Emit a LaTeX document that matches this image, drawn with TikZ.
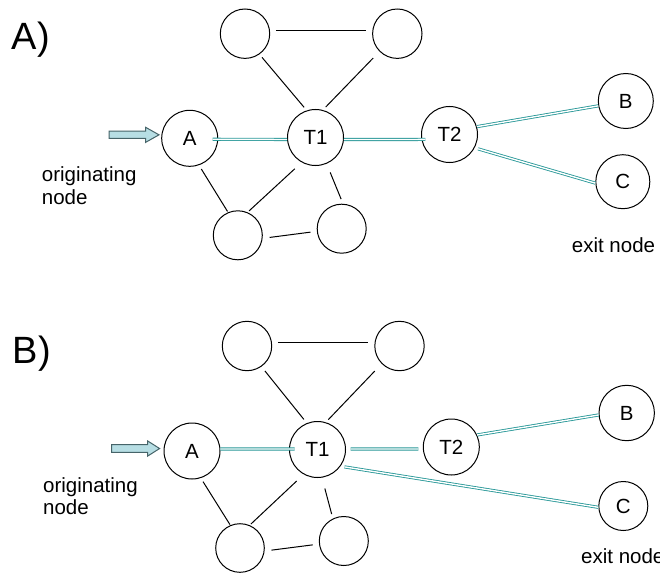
\documentclass[tikz,border=0pt]{standalone}
\usepackage{fontspec}
\setmainfont{Liberation Sans}
\usetikzlibrary{calc}

\definecolor{linkteal}{RGB}{40,152,152}
\definecolor{arrowfill}{RGB}{183,222,228}
\definecolor{arrowedge}{RGB}{70,100,105}

\tikzset{
  hub/.style={circle, draw, line width=1pt, inner sep=0pt,
              font=\fontsize{20.5}{24}\selectfont},
  link/.style={line width=1pt},
  route/.style={draw=linkteal, double=white, line width=0.85pt,
                double distance=1.4pt},
  caption/.style={font=\fontsize{20.5}{22.4}\selectfont, align=left,
                  anchor=base west, inner sep=0pt},
  panel/.style={font=\fontsize{38}{40}\selectfont, anchor=base west,
                inner sep=0pt},
  inlet/.style={fill=arrowfill, draw=arrowedge, line width=1pt,
                line join=miter}
}

\begin{document}
\begin{tikzpicture}[x=1pt, y=-1pt]
  \fill[white] (0,0) rectangle (660,572);
  \useasboundingbox (0,0) rectangle (660,572);

  % ---------------- panel A ----------------
  \node[panel] (lblA) at (11.7,50) {A)};

  \node[hub, minimum size=49.4pt] (aTL) at (245,33.7) {};
  \node[hub, minimum size=49.4pt] (aTR) at (397.3,33.7) {};
  \node[hub, minimum size=56pt]   (aA)  at (189.7,138.3) {A};
  \node[hub, minimum size=56pt]   (aT1) at (315.5,137.5) {T1};
  \node[hub, minimum size=56pt]   (aT2) at (449.5,134.5) {T2};
  \node[hub, minimum size=55pt]   (aB)  at (625.8,101) {B};
  \node[hub, minimum size=54pt]   (aC)  at (622.8,181.7) {C};
  \node[hub, minimum size=49pt]   (aBL) at (237.8,235.3) {};
  \node[hub, minimum size=49pt]   (aBR) at (341.7,228.7) {};

  \draw[link, shorten <=6pt, shorten >=6pt]     (aTL.8)      -- (aTR.172);
  \draw[link, shorten <=4pt, shorten >=4pt]     (aTL.-55)    -- (aT1.108);
  \draw[link, shorten <=9pt, shorten >=4pt]     (aTR.-135)   -- (aT1.75);
  \draw[link, shorten <=4.4pt, shorten >=1pt]   (aA.-71.5)   -- (aBL.113);
  \draw[link, shorten <=9.4pt, shorten >=2pt]   (aT1.-119.6) -- (aBL.67);
  \draw[link, shorten <=9.4pt, shorten >=5pt]   (aT1.-67)    -- (aBR.87.5);
  \draw[link, shorten <=7pt, shorten >=6.4pt]   (aBL.-7)     -- (aBR.186);

  \draw[route, shorten <=-5.5pt] (aA.-2)   -- (aT1.184);
  \draw[route, shorten >=-4pt]   (aT1.-4)  -- (aT2.190);
  \draw[route]                   (aT2.16)  -- (aB.190);
  \draw[route, shorten <=3.5pt]  (aT2.-28) -- (aC.183);

  \draw[inlet, shift={($(aA.173)+(-2.4,0)$)}]
    (-50,-3.6) -- (-13.5,-3.6) -- (-13.5,-7.6) -- (0,0)
    -- (-13.5,7.6) -- (-13.5,3.6) -- (-50,3.6) -- cycle;

  % the base anchor of a two-line caption sits on its last line
  \node[caption] (origA) at (41.7,204.1) {originating\\node};
  \node[caption] (exitA) at (571.7,252) {exit node};

  % ---------------- panel B ----------------
  \node[panel] (lblB) at (12.7,363) {B)};

  \node[hub, minimum size=49.4pt] (bTL) at (247,346) {};
  \node[hub, minimum size=49.4pt] (bTR) at (399.5,346) {};
  \node[hub, minimum size=56pt]   (bA)  at (192,451) {A};
  \node[hub, minimum size=56pt]   (bT1) at (317.5,449.5) {T1};
  \node[hub, minimum size=56pt]   (bT2) at (451.3,447) {T2};
  \node[hub, minimum size=55.4pt] (bB)  at (626.7,413) {B};
  \node[hub, minimum size=49pt]   (bC)  at (623.3,506) {C};
  \node[hub, minimum size=48.6pt] (bBL) at (240,548) {};
  \node[hub, minimum size=49pt]   (bBR) at (343.8,541) {};

  \draw[link, shorten <=6pt, shorten >=6.5pt]    (bTL.8)      -- (bTR.172);
  \draw[link, shorten <=5.5pt, shorten >=4.7pt]  (bTL.-55)    -- (bT1.112.5);
  \draw[link, shorten <=10pt, shorten >=3.6pt]   (bTR.-135)   -- (bT1.73);
  \draw[link, shorten <=4.2pt, shorten >=0.7pt]  (bA.-72.5)   -- (bBL.113.5);
  \draw[link, shorten <=9.7pt, shorten >=1.7pt]  (bT1.-119.4) -- (bBL.67.4);
  \draw[link, shorten <=11.2pt, shorten >=4.6pt] (bT1.-81.5)  -- (bBR.116.7);
  \draw[link, shorten <=6.9pt, shorten >=6.3pt]  (bBL.-7)     -- (bBR.187.5);

  \draw[route, shorten >=-5.5pt]              (bA.4)     -- (bT1.179);
  \draw[route, shorten <=4.5pt, shorten >=4.5pt] (bT1.1) -- (bT2.184);
  \draw[route]                                (bT2.25.5) -- (bB.184);
  \draw[route, shorten <=3.9pt]               (bT1.-36)  -- (bC.183);

  \draw[inlet, shift={($(bA.175)+(-4,0)$)}]
    (-48,-3.8) -- (-12,-3.8) -- (-12,-7.6) -- (0,0)
    -- (-12,7.6) -- (-12,3.8) -- (-48,3.8) -- cycle;

  \node[caption] (origB) at (43,514.4) {originating\\node};
  \node[caption] (exitB) at (581,563) {exit node};
\end{tikzpicture}
\end{document}
